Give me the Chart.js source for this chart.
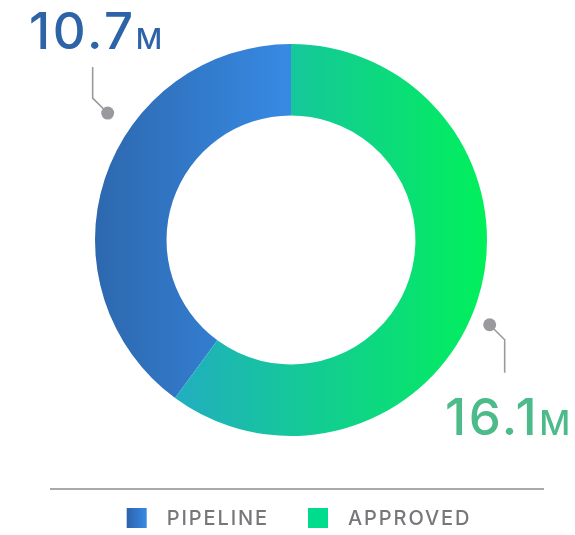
<!DOCTYPE html>
<html>
<head>
<meta charset="utf-8">
<script src="https://cdn.jsdelivr.net/npm/chart.js@4/dist/chart.umd.min.js"></script>
<style>
  html, body { margin: 0; padding: 0; background: #fff; }
  #wrap { width: 575px; height: 535px; position: relative; }
</style>
</head>
<body>
<div id="wrap"><canvas id="donut"></canvas></div>
<script>
const labels = ["PIPELINE", "APPROVED"];
const values = [10.7, 16.1];
const units = ["M", "M"];

const total = values.reduce((a, b) => a + b, 0);

const FONT = "Inter, 'Open Sans', sans-serif";

function gradFor(chart, idx) {
  const { ctx, chartArea } = chart;
  if (!chartArea) return null;
  const cx = (chartArea.left + chartArea.right) / 2;
  if (idx === 0) {
    const g = ctx.createLinearGradient(chartArea.left, 0, cx, 0);
    g.addColorStop(0, "#2d68ae");
    g.addColorStop(1, "#378ae4");
    return g;
  }
  const g = ctx.createLinearGradient(chartArea.left + 75, 0, chartArea.right, 0);
  g.addColorStop(0, "#22adc2");
  g.addColorStop(1, "#01f05b");
  return g;
}

// value callouts with leader lines
const callouts = {
  id: "callouts",
  afterDatasetsDraw(chart) {
    const meta = chart.getDatasetMeta(0);
    const { ctx } = chart;
    const arc = meta.data[0];
    const cx = arc.x, cy = arc.y, R = arc.outerRadius;
    const spec = [
      { ang: -55.3, r: R + 27, kneeDx: -15, kneeDy: -15, endDy: -31, color: "#2d63a7", textX: 29, textY: 49, unitSize: 29 },
      { ang: 113.1, r: R + 20, kneeDx: 15, kneeDy: 15, endDy: 33, color: "#4cba89", textX: 445, textY: 435, unitSize: 34 },
    ];
    ctx.save();
    spec.forEach((s, i) => {
      const a = s.ang * Math.PI / 180;
      const px = cx + s.r * Math.sin(a);
      const py = cy - s.r * Math.cos(a);
      ctx.strokeStyle = "#9a9a9e";
      ctx.lineWidth = 1.6;
      ctx.beginPath();
      ctx.moveTo(px, py);
      ctx.lineTo(px + s.kneeDx, py + s.kneeDy);
      ctx.lineTo(px + s.kneeDx, py + s.kneeDy + s.endDy);
      ctx.stroke();
      ctx.fillStyle = "#9a9a9e";
      ctx.beginPath();
      ctx.arc(px, py, 6.5, 0, Math.PI * 2);
      ctx.fill();

      ctx.fillStyle = s.color;
      ctx.textBaseline = "alphabetic";
      ctx.textAlign = "left";
      ctx.font = "500 51px " + FONT;
      ctx.letterSpacing = "2.6px";
      const txt = values[i].toFixed(1);
      ctx.fillText(txt, s.textX, s.textY);
      const w = ctx.measureText(txt).width;
      ctx.font = "500 " + s.unitSize + "px " + FONT;
      ctx.letterSpacing = "0px";
      ctx.fillText(units[i], s.textX + w, s.textY);
    });
    ctx.restore();
  }
};

// legend under a rule
const bottomLegend = {
  id: "bottomLegend",
  afterDraw(chart) {
    const { ctx } = chart;
    const lineY = 489;
    ctx.save();
    ctx.strokeStyle = "#8c8c8c";
    ctx.lineWidth = 1.5;
    ctx.beginPath();
    ctx.moveTo(50, lineY);
    ctx.lineTo(544, lineY);
    ctx.stroke();

    ctx.font = "500 20px " + FONT;
    ctx.letterSpacing = "1.9px";
    const box = 20, gapText = 20, gapItem = 39;
    const widths = labels.map(l => ctx.measureText(l).width);
    const totalW = widths.reduce((s, w) => s + box + gapText + w, 0) + gapItem * (labels.length - 1);
    let x = 299 - totalW / 2;
    const boxY = 508;
    labels.forEach((l, i) => {
      if (i === 0) {
        const g = ctx.createLinearGradient(x, 0, x + box, 0);
        g.addColorStop(0, "#2d62ab");
        g.addColorStop(1, "#378ae4");
        ctx.fillStyle = g;
      } else {
        ctx.fillStyle = "#00dc8e";
      }
      ctx.fillRect(x, boxY, box, box);
      ctx.fillStyle = "#77777b";
      ctx.textBaseline = "middle";
      ctx.fillText(l, x + box + gapText, boxY + box / 2 + 1);
      x += box + gapText + widths[i] + gapItem;
    });
    ctx.restore();
  }
};

new Chart(document.getElementById("donut"), {
  type: "doughnut",
  data: {
    labels,
    datasets: [{
      data: values,
      backgroundColor: (c) => gradFor(c.chart, c.dataIndex),
      borderWidth: 0,
      hoverOffset: 0,
    }]
  },
  options: {
    responsive: true,
    maintainAspectRatio: false,
    animation: false,
    cutout: "63.5%",
    rotation: -360 * values[0] / total,
    layout: { padding: { left: 95, right: 88, top: 44, bottom: 99 } },
    plugins: {
      legend: { display: false },
      tooltip: { enabled: false },
    }
  },
  plugins: [callouts, bottomLegend]
});
</script>
</body>
</html>
